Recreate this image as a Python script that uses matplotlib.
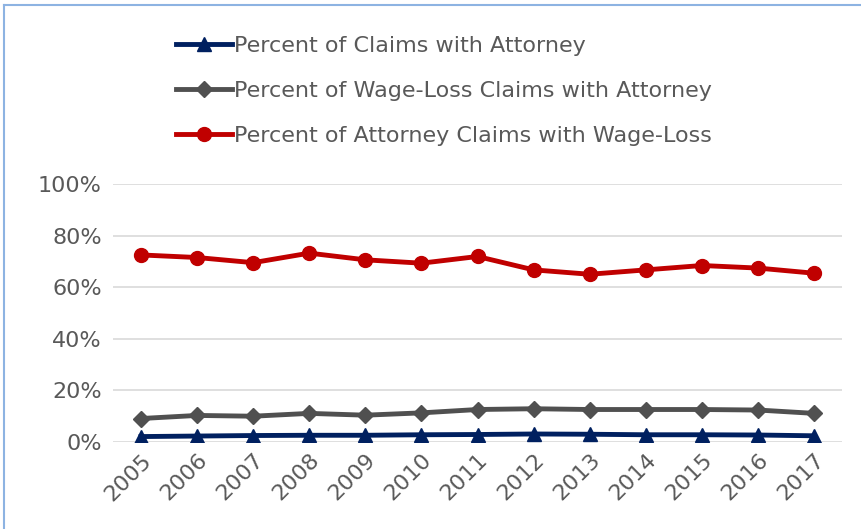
import matplotlib.pyplot as plt
from matplotlib.lines import Line2D
from matplotlib.ticker import PercentFormatter

# ==========================
# DATA
# ==========================

years = ["2005", "2006", "2007", "2008", "2009", "2010", "2011",
         "2012", "2013", "2014", "2015", "2016", "2017"]

claims_with_attorney = [2.0, 2.2, 2.4, 2.5, 2.5, 2.7, 2.8, 3.0, 2.9, 2.7, 2.7, 2.6, 2.3]
wage_loss_with_attorney = [9.0, 10.2, 9.9, 11.0, 10.3, 11.2, 12.5, 12.8, 12.5, 12.5, 12.5, 12.3, 11.0]
attorney_with_wage_loss = [72.5, 71.5, 69.5, 73.2, 70.6, 69.3, 71.9, 66.7, 65.0, 66.7, 68.4, 67.4, 65.4]

labels = ["Percent of Claims with Attorney",
          "Percent of Wage-Loss Claims with Attorney",
          "Percent of Attorney Claims with Wage-Loss"]

# ==========================
# STYLE
# ==========================

plt.rcParams["font.family"] = ["DejaVu Sans"]
text_color = "#595959"

fig = plt.figure(figsize=(8.62, 5.29), dpi=100)
ax = fig.add_axes([0.131, 0.165, 0.846, 0.487])

x = list(range(len(years)))

ax.plot(x, claims_with_attorney, color="#002060", linewidth=3.5, marker="^",
        markersize=10, label=labels[0])
ax.plot(x, wage_loss_with_attorney, color="#505050", linewidth=3.5, marker="D",
        markersize=8, label=labels[1])
ax.plot(x, attorney_with_wage_loss, color="#C00000", linewidth=3.5, marker="o",
        markersize=10, label=labels[2])

ax.set_xlim(-0.5, len(years) - 0.5)
ax.set_ylim(0, 100)
ax.set_yticks([0, 20, 40, 60, 80, 100])
ax.yaxis.set_major_formatter(PercentFormatter(decimals=0))
ax.set_xticks(x)
ax.set_xticklabels(years, rotation=45, ha="right", rotation_mode="anchor")

ax.grid(axis="y", color="#D9D9D9", linewidth=1.2)
ax.set_axisbelow(True)
for s in ax.spines.values():
    s.set_visible(False)
ax.tick_params(length=0, labelsize=16, colors=text_color, pad=8)
ax.tick_params(axis="x", pad=6)

leg = fig.legend(loc="upper left", bbox_to_anchor=(0.181, 0.97), frameon=False,
                 fontsize=16, labelcolor=text_color, handlelength=2.5,
                 handletextpad=0.1, labelspacing=1.12)

# light blue chart border (top and left)
fig.add_artist(Line2D([0.005, 1.0], [0.99, 0.99], color="#8DB3E2", linewidth=1.5))
fig.add_artist(Line2D([0.005, 0.005], [0.0, 0.99], color="#8DB3E2", linewidth=1.5))

plt.savefig("out.png", dpi=100)
